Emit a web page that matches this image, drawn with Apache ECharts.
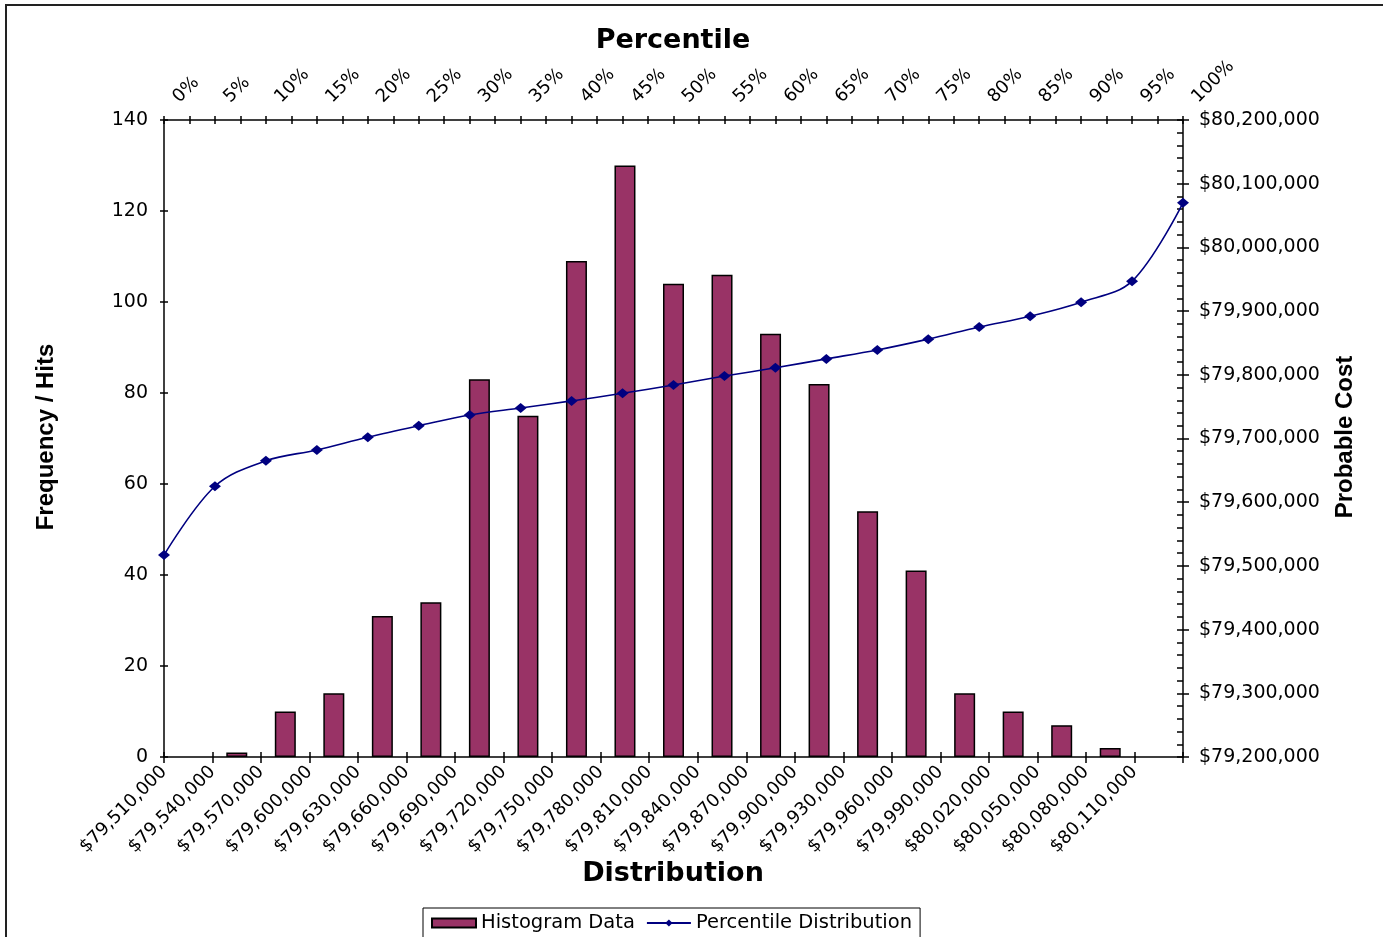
<!DOCTYPE html>
<html>
<head>
<meta charset="utf-8">
<title>Histogram and Percentile Distribution</title>
<script src="https://cdn.jsdelivr.net/npm/echarts@6/dist/echarts.min.js"></script>
<style>
  html, body { margin: 0; padding: 0; background: #fff; }
  #chart { width: 1383px; height: 937px; }
</style>
</head>
<body>
<div id="chart"></div>
<script>
// Histogram bins (lower bound of each bin) and hit counts per bin
const binLabels = [
  '$79,510,000', '$79,540,000', '$79,570,000', '$79,600,000', '$79,630,000',
  '$79,660,000', '$79,690,000', '$79,720,000', '$79,750,000', '$79,780,000',
  '$79,810,000', '$79,840,000', '$79,870,000', '$79,900,000', '$79,930,000',
  '$79,960,000', '$79,990,000', '$80,020,000', '$80,050,000', '$80,080,000',
  '$80,110,000'
];
const hits = [0, 1, 10, 14, 31, 34, 83, 75, 109, 130, 104, 106, 93, 82, 54, 41, 14, 10, 7, 2, 0];

// Percentile curve: percentile (%) and the matching probable cost
const percentiles = [0, 5, 10, 15, 20, 25, 30, 35, 40, 45, 50, 55, 60, 65, 70, 75, 80, 85, 90, 95, 100];
const probableCost = [
  79517000, 79625000, 79665000, 79682000, 79702000, 79720000, 79737000,
  79748000, 79759000, 79771000, 79784000, 79798000, 79811000, 79825000,
  79839000, 79856000, 79875000, 79892000, 79914000, 79947000, 80070000
];

const FONT = 'DejaVu Sans';
const AXIS_COLOR = '#000';
const chart = echarts.init(document.getElementById('chart'));

const lineStyle = { color: AXIS_COLOR, width: 1.5 };
const money = v => '$' + Math.round(v).toLocaleString('en-US');
// axis used only to draw the inner half of cross ticks
const tickOnly = (base, tick, extra) => Object.assign({
  axisLine: { show: false, onZero: false },
  splitLine: { show: false },
  axisLabel: { show: false },
  axisTick: Object.assign({ show: true, inside: true, lineStyle }, tick)
}, base, extra || {});

const option = {
  animation: false,
  backgroundColor: '#fff',
  textStyle: { fontFamily: FONT, color: '#000' },
  grid: {
    left: 164, right: 200, top: 120, bottom: 180,
    containLabel: false, outerBoundsMode: 'none'
  },
  legend: {
    left: 423, top: 908,
    itemWidth: 44, itemHeight: 9, itemGap: 11,
    borderColor: '#000', borderWidth: 1, borderRadius: 0,
    padding: [5, 8, 14, 8],
    textStyle: { fontFamily: FONT, fontSize: 19.5, color: '#000' },
    data: [
      { name: 'Histogram Data', icon: 'rect' },
      { name: 'Percentile Distribution' }
    ]
  },
  xAxis: [
    { // bins along the bottom
      type: 'value', position: 'bottom', min: 0, max: 21, interval: 1,
      axisLine: { show: true, onZero: false, lineStyle },
      axisTick: { show: true, inside: false, length: 6, lineStyle },
      splitLine: { show: false },
      axisLabel: {
        rotate: 45, margin: 12, fontSize: 18, color: '#000', fontFamily: FONT,
        formatter: v => binLabels[v] || ''
      }
    },
    { // percentile scale along the top
      type: 'value', position: 'top', min: 0, max: 100, interval: 2.5,
      axisLine: { show: true, onZero: false, lineStyle },
      axisTick: { show: true, inside: false, length: 4, lineStyle },
      splitLine: { show: false },
      axisLabel: {
        rotate: -45, margin: 8, fontSize: 18, color: '#000', fontFamily: FONT,
        padding: [0, 0, 0, 17],
        formatter: v => (v % 5 === 0 ? v + '%' : '')
      }
    },
    tickOnly({ type: 'value', position: 'bottom', min: 0, max: 21, interval: 1 }, { length: 5 }),
    tickOnly({ type: 'value', position: 'top', min: 0, max: 100, interval: 2.5 }, { length: 4 })
  ],
  yAxis: [
    { // hit counts
      type: 'value', position: 'left', min: 0, max: 140, interval: 20,
      axisLine: { show: true, onZero: false, lineStyle },
      axisTick: { show: true, inside: false, length: 4, lineStyle },
      splitLine: { show: false },
      axisLabel: { margin: 16, fontSize: 19, color: '#000', fontFamily: FONT }
    },
    { // probable cost
      type: 'value', position: 'right', min: 79200000, max: 80200000, interval: 100000,
      axisLine: { show: true, onZero: false, lineStyle },
      axisTick: { show: true, inside: false, length: 6, lineStyle },
      splitLine: { show: false },
      axisLabel: { margin: 16, fontSize: 19, color: '#000', fontFamily: FONT, formatter: money }
    },
    tickOnly({ type: 'value', position: 'left', min: 0, max: 140, interval: 20 }, { length: 4 }),
    tickOnly(
      { type: 'value', position: 'right', min: 79200000, max: 80200000, interval: 100000 },
      { length: 6 },
      { minorTick: { show: true, splitNumber: 5, length: 6, lineStyle } }
    )
  ],
  series: [
    {
      name: 'Histogram Data',
      type: 'bar',
      xAxisIndex: 0, yAxisIndex: 0,
      barWidth: 21,
      itemStyle: { color: '#993366', borderColor: '#000', borderWidth: 1.5 },
      // empty bins get no outline so nothing is drawn for them
      data: hits.map((v, i) => (v === 0
        ? { value: [i + 0.5, v], itemStyle: { borderWidth: 0 } }
        : [i + 0.5, v]))
    },
    {
      name: 'Percentile Distribution',
      type: 'line',
      xAxisIndex: 1, yAxisIndex: 1,
      smooth: 0.35,
      symbol: 'diamond', symbolSize: [12, 10], showAllSymbol: true,
      lineStyle: { color: '#000080', width: 1.6 },
      itemStyle: { color: '#000080' },
      z: 5,
      data: percentiles.map((p, i) => [p, probableCost[i]])
    }
  ],
  graphic: [
    { // chart frame
      type: 'rect', silent: true, z: -1,
      shape: { x: 6, y: 5, width: 1500, height: 1000 },
      style: { fill: 'none', stroke: '#222', lineWidth: 2 }
    },
    {
      type: 'text', x: 673, y: 41,
      style: { text: 'Percentile', font: 'bold 27px "DejaVu Sans"', fill: '#000',
               textAlign: 'center', textVerticalAlign: 'middle' }
    },
    {
      type: 'text', x: 673, y: 874,
      style: { text: 'Distribution', font: 'bold 27px "DejaVu Sans"', fill: '#000',
               textAlign: 'center', textVerticalAlign: 'middle' }
    },
    {
      type: 'text', x: 46, y: 437, rotation: Math.PI / 2,
      style: { text: 'Frequency / Hits', font: 'bold 24px "Liberation Sans"', fill: '#000',
               textAlign: 'center', textVerticalAlign: 'middle' }
    },
    {
      type: 'text', x: 1345, y: 437, rotation: Math.PI / 2,
      style: { text: 'Probable Cost', font: 'bold 24px "Liberation Sans"', fill: '#000',
               textAlign: 'center', textVerticalAlign: 'middle' }
    }
  ]
};

chart.setOption(option);
</script>
</body>
</html>
